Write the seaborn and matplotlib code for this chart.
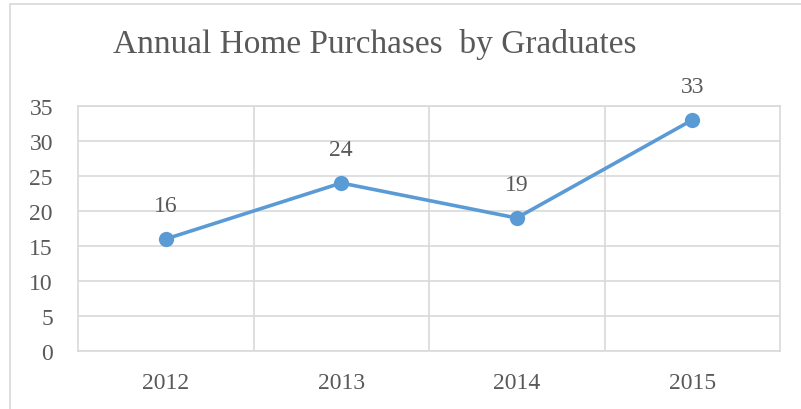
import matplotlib
matplotlib.use("Agg")
import matplotlib.pyplot as plt
import seaborn as sns
import pandas as pd
from matplotlib.patches import Rectangle

# datos del grafico
years = ["2012", "2013", "2014", "2015"]
purchases = [16, 24, 19, 33]
y_ticks = [0, 5, 10, 15, 20, 25, 30, 35]

df = pd.DataFrame({"year": years, "purchases": purchases})

sns.set_theme(style="white")
plt.rcParams["font.family"] = ["Liberation Serif", "DejaVu Serif"]

blue = "#5B9BD5"
grey_txt = "#595959"
grid_col = "#D9D9D9"

fig = plt.figure(figsize=(8.01, 4.10), dpi=100)
ax = fig.add_axes([78 / 801, 1 - 352 / 410, (780 - 78) / 801, (352 - 107) / 410])

# borde del area del grafico
fig.patches.append(Rectangle((10 / 801, -0.1), 1.2, 1 - 5 / 410 + 0.1, transform=fig.transFigure,
                             fill=False, edgecolor=grid_col, linewidth=1.2))

sns.lineplot(ax=ax, data=df, x="year", y="purchases", color=blue, linewidth=2.6,
             marker="o", markersize=11, markeredgewidth=0, zorder=3)

for i, v in enumerate(purchases):
    ax.annotate(str(v), (i, v), xytext=(0, 24), textcoords="offset points",
                ha="center", va="center", fontsize=17, color=grey_txt)

ax.set_xlim(-0.5, len(years) - 0.5)
ax.set_ylim(0, 35)
ax.set_yticks(y_ticks)
ax.set_xticks(range(len(years)))
ax.set_xticks([i + 0.5 for i in range(len(years) - 1)], minor=True)
ax.grid(False)
ax.grid(axis="y", which="major", color=grid_col, linewidth=1.2)
ax.grid(axis="x", which="minor", color=grid_col, linewidth=1.2)
for s in ax.spines.values():
    s.set_color(grid_col)
    s.set_linewidth(1.2)
ax.tick_params(axis="both", which="both", length=0, labelsize=17, labelcolor=grey_txt)
ax.tick_params(axis="x", pad=15)
ax.tick_params(axis="y", pad=18)
ax.set_xlabel("")
ax.set_ylabel("")

fig.text(375 / 801, 1 - 45 / 410, "Annual Home Purchases  by Graduates", ha="center", va="center",
         fontsize=24, color=grey_txt)

plt.savefig("out.png", dpi=100)
